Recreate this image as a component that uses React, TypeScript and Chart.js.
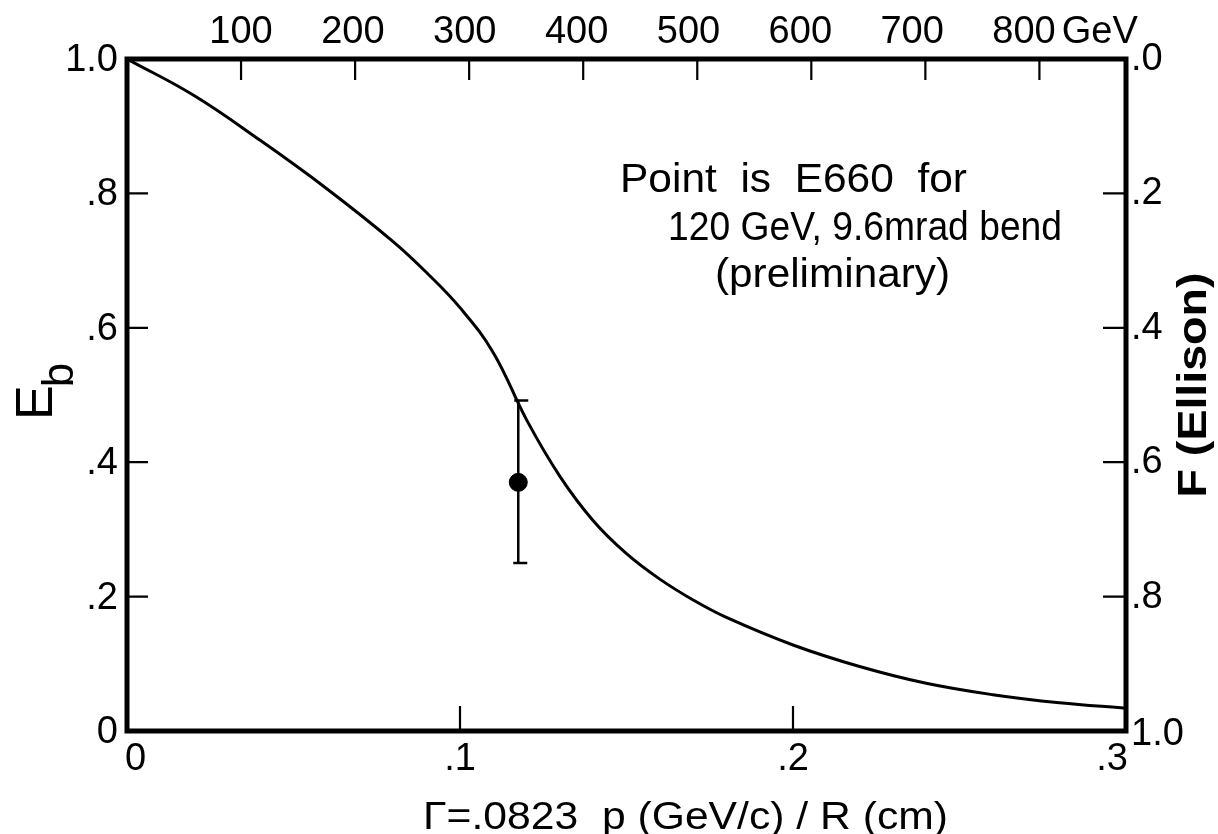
import React, { useEffect, useRef } from "react";
import { Chart, registerables } from "chart.js";

Chart.register(...registerables);

// ---- Data ----
const curveGamma = [0, 0.02, 0.04, 0.06, 0.08, 0.09, 0.1, 0.11, 0.12, 0.13, 0.14, 0.15, 0.16, 0.17, 0.18, 0.2, 0.22, 0.24, 0.26, 0.28, 0.3];
const curveEb = [1.0, 0.946, 0.879, 0.807, 0.728, 0.682, 0.63, 0.563, 0.463, 0.379, 0.313, 0.264, 0.226, 0.195, 0.169, 0.128, 0.096, 0.071, 0.054, 0.042, 0.034];

const pointGamma = [0.1175];
const pointEb = [0.37];
const pointEbLow = [0.25];
const pointEbHigh = [0.492];

const gammaTicks = [0, 0.1, 0.2, 0.3];
const gammaTickLabels = ["0", ".1", ".2", ".3"];
const ebTicks = [0, 0.2, 0.4, 0.6, 0.8, 1.0];
const ebTickLabels = ["0", ".2", ".4", ".6", ".8", "1.0"];
const gevTicks = [100, 200, 300, 400, 500, 600, 700, 800];
const gevTickLabels = ["100", "200", "300", "400", "500", "600", "700", "800"];
const fTicks = [0, 0.2, 0.4, 0.6, 0.8, 1.0];
const fTickLabels = [".0", ".2", ".4", ".6", ".8", "1.0"];

const gevPerGamma = 100 / 0.03425;
const gammaMax = 0.3;
const gevMax = gammaMax * gevPerGamma;

const annotationLines = ["Point  is  E660  for", "120 GeV, 9.6mrad bend", "(preliminary)"];
const xTitle = "\u0393=.0823  p (GeV/c) / R (cm)";
const rightTitle = "F (Ellison)";

const FONT = "'Liberation Sans', Arial, sans-serif";

function fitText(ctx: CanvasRenderingContext2D, text: string, x: number, y: number, width: number) {
  const w = ctx.measureText(text).width;
  ctx.save();
  ctx.translate(x, y);
  ctx.scale(width / w, 1);
  ctx.textAlign = "left";
  ctx.fillText(text, 0, 0);
  ctx.restore();
}

const decorPlugin = {
  id: "decor",
  beforeDatasetsDraw(chart: any) {
    const ctx = chart.ctx as CanvasRenderingContext2D;
    const xs = chart.scales.x;
    const ys = chart.scales.y;
    ctx.save();
    ctx.strokeStyle = "#000";
    ctx.lineWidth = 2.5;
    pointGamma.forEach((g, i) => {
      const px = xs.getPixelForValue(g);
      const pLo = ys.getPixelForValue(pointEbLow[i]);
      const pHi = ys.getPixelForValue(pointEbHigh[i]);
      ctx.beginPath();
      ctx.moveTo(px, pLo);
      ctx.lineTo(px, pHi);
      ctx.moveTo(px - 5, pLo);
      ctx.lineTo(px + 9, pLo);
      ctx.moveTo(px - 4, pHi);
      ctx.lineTo(px + 10, pHi);
      ctx.stroke();
    });
    ctx.restore();
  },
  afterDatasetsDraw(chart: any) {
    const ctx = chart.ctx as CanvasRenderingContext2D;
    const { left, right, top, bottom } = chart.chartArea;
    const xs = chart.scales.x;
    const ys = chart.scales.y;
    const xg = chart.scales.xG;
    const yf = chart.scales.yF;
    ctx.save();
    ctx.strokeStyle = "#000";
    ctx.fillStyle = "#000";
    // frame
    ctx.lineWidth = 5;
    ctx.lineJoin = "miter";
    ctx.strokeRect(left, top, right - left, bottom - top);

    // inward ticks
    ctx.lineWidth = 2.2;
    ctx.beginPath();
    gammaTicks.forEach((v) => {
      if (v <= 0 || v >= gammaMax) return;
      const px = xs.getPixelForValue(v);
      ctx.moveTo(px, bottom);
      ctx.lineTo(px, bottom - 25);
    });
    gevTicks.forEach((v) => {
      const px = xg.getPixelForValue(v);
      ctx.moveTo(px, top);
      ctx.lineTo(px, top + 21);
    });
    ebTicks.forEach((v) => {
      if (v <= 0 || v >= 1) return;
      const py = ys.getPixelForValue(v);
      ctx.moveTo(left, py);
      ctx.lineTo(left + 21, py);
    });
    fTicks.forEach((v) => {
      if (v <= 0 || v >= 1) return;
      const py = yf.getPixelForValue(v);
      ctx.moveTo(right, py);
      ctx.lineTo(right - 23, py);
    });
    ctx.stroke();

    // tick labels
    ctx.font = `38px ${FONT}`;
    ctx.textBaseline = "alphabetic";
    const cap = 14;
    // bottom
    gammaTicks.forEach((v, i) => {
      const px = xs.getPixelForValue(v);
      let align: CanvasTextAlign = "center";
      let x = px;
      if (i === 0) { align = "left"; x = px - 2; }
      if (i === gammaTicks.length - 1) { align = "right"; x = px + 2; }
      ctx.textAlign = align;
      ctx.fillText(gammaTickLabels[i], x, bottom + 39);
    });
    // left
    ctx.textAlign = "right";
    ebTicks.forEach((v, i) => {
      const py = ys.getPixelForValue(v);
      ctx.fillText(ebTickLabels[i], left - 9, py + cap - 2);
    });
    // right
    ctx.textAlign = "left";
    fTicks.forEach((v, i) => {
      const py = yf.getPixelForValue(v);
      const dy = i === fTicks.length - 1 ? 0 : -3;
      ctx.fillText(fTickLabels[i], right + 5, py + cap + dy);
    });
    // top
    ctx.textAlign = "center";
    gevTicks.forEach((v, i) => {
      const px = xg.getPixelForValue(v) - i * 2.2;
      ctx.fillText(gevTickLabels[i], px, 43);
      if (i === gevTicks.length - 1) {
        const w = ctx.measureText(gevTickLabels[i]).width;
        ctx.textAlign = "left";
        ctx.fillText("GeV", px + w / 2 + 6, 43);
        ctx.textAlign = "center";
      }
    });

    // x title
    ctx.font = `39px ${FONT}`;
    fitText(ctx, xTitle, 423, 829, 525);

    // annotation
    ctx.font = `40px ${FONT}`;
    fitText(ctx, annotationLines[0], 620, 192, 347);
    fitText(ctx, annotationLines[1], 668, 240, 394);
    fitText(ctx, annotationLines[2], 715, 287, 235);

    // left title E_b (rotated)
    ctx.save();
    ctx.translate(52, 420);
    ctx.rotate(-Math.PI / 2);
    ctx.textAlign = "left";
    ctx.font = `52px ${FONT}`;
    ctx.fillText("E", 0, 0);
    const ew = ctx.measureText("E").width;
    ctx.font = `44px ${FONT}`;
    ctx.fillText("b", ew - 2, 21);
    ctx.restore();

    // right title
    ctx.save();
    ctx.translate(1206, 385);
    ctx.rotate(-Math.PI / 2);
    ctx.font = `bold 40px ${FONT}`;
    const tw = ctx.measureText(rightTitle).width;
    ctx.scale(225 / tw, 1);
    ctx.textAlign = "center";
    ctx.textBaseline = "alphabetic";
    ctx.fillText(rightTitle, 0, 0);
    ctx.restore();

    ctx.restore();
  },
};

export default function App() {
  const ref = useRef<HTMLCanvasElement | null>(null);
  useEffect(() => {
    if (!ref.current) return;
    const chart = new Chart(ref.current, {
      type: "scatter",
      data: {
        datasets: [
          {
            data: curveGamma.map((g, i) => ({ x: g, y: curveEb[i] })),
            showLine: true,
            borderColor: "#000",
            borderWidth: 3,
            pointRadius: 0,
            tension: 0.4,
            xAxisID: "x",
            yAxisID: "y",
          } as any,
          {
            data: pointGamma.map((g, i) => ({ x: g, y: pointEb[i] })),
            showLine: false,
            pointRadius: 9,
            pointBackgroundColor: "#000",
            pointBorderColor: "#000",
            xAxisID: "x",
            yAxisID: "y",
          } as any,
        ],
      },
      options: {
        responsive: false,
        animation: false,
        events: [],
        layout: { padding: { left: 127, right: 92, top: 59, bottom: 103 } },
        plugins: { legend: { display: false }, tooltip: { enabled: false } },
        scales: {
          x: { type: "linear", min: 0, max: gammaMax, display: false },
          y: { type: "linear", min: 0, max: 1, display: false },
          xG: { type: "linear", position: "top", min: 0, max: gevMax, display: false },
          yF: { type: "linear", position: "right", min: 0, max: 1, reverse: true, display: false },
        },
      } as any,
      plugins: [decorPlugin],
    });
    return () => chart.destroy();
  }, []);
  return (
    <div style={{ position: "fixed", left: 0, top: 0, width: 1218, height: 834, background: "#fff" }}>
      <canvas ref={ref} width={1218} height={834} style={{ display: "block" }} />
    </div>
  );
}
